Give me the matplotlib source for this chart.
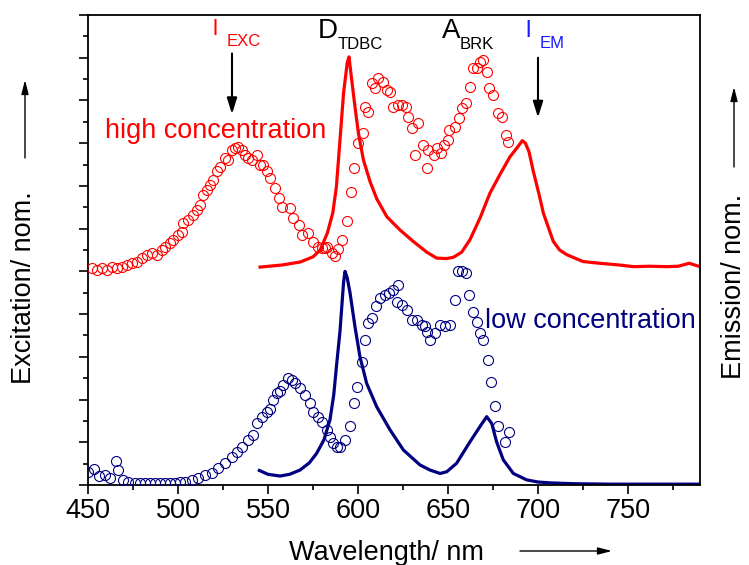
import matplotlib
matplotlib.use("Agg")
import matplotlib.pyplot as plt
from matplotlib.ticker import MultipleLocator, NullFormatter

plt.rcParams['font.family'] = ['Liberation Sans', 'DejaVu Sans']

# --- excitation, high concentration (open red circles) ---
red_exc_wl = [452.0, 454.8, 457.6, 460.4, 463.1, 465.9, 468.7, 471.5, 474.3, 477.0,
              479.8, 482.6, 485.4, 488.1, 490.9, 492.8, 495.6, 497.4, 500.2, 502.1,
              503.0, 505.7, 508.5, 510.4, 512.2, 514.1, 515.9, 517.8, 519.6, 521.5,
              523.3, 526.1, 528.0, 529.8, 531.7, 533.5, 535.4, 537.2, 539.1, 540.9,
              543.7, 545.6, 547.4, 549.3, 551.0, 554.0, 556.0, 558.0, 562.0, 564.0,
              567.0, 569.0, 572.0, 575.0, 578.0, 580.0, 581.7, 583.0, 585.4, 587.2,
              589.0, 591.0, 594.0, 596.0, 598.0, 600.0, 602.5, 604.0, 605.6, 608.0,
              609.5, 611.0, 614.0, 616.0, 618.0, 619.5, 622.0, 624.5, 626.5, 628.0,
              630.0, 631.7, 633.5, 636.3, 638.1, 639.0, 642.0, 644.0, 646.0, 647.5,
              650.0, 650.5, 654.0, 656.0, 658.0, 660.0, 662.0, 664.0, 666.0, 668.0,
              669.5, 671.5, 673.0, 675.0, 678.0, 680.0, 682.0, 683.5]
red_exc_val = [5.07, 5.04, 5.07, 5.03, 5.11, 5.07, 5.11, 5.15, 5.19, 5.23,
               5.31, 5.39, 5.43, 5.39, 5.50, 5.58, 5.66, 5.74, 5.85, 5.93,
               6.13, 6.21, 6.32, 6.44, 6.56, 6.79, 6.91, 7.03, 7.14, 7.34,
               7.45, 7.65, 7.61, 7.85, 7.89, 7.92, 7.85, 7.73, 7.65, 7.61,
               7.73, 7.49, 7.49, 7.34, 7.19, 6.96, 6.72, 6.51, 6.49, 6.25,
               6.09, 5.85, 5.90, 5.69, 5.57, 5.55, 5.55, 5.57, 5.43, 5.36,
               5.52, 5.74, 6.18, 6.86, 7.42, 8.00, 8.25, 8.85, 8.74, 9.41,
               9.30, 9.53, 9.44, 9.25, 9.20, 8.85, 8.90, 8.90, 8.85, 8.62,
               8.36, 7.73, 8.47, 7.96, 7.42, 7.85, 7.73, 7.89, 7.78, 7.96,
               8.08, 8.31, 8.38, 8.59, 8.83, 8.95, 9.32, 9.77, 9.77, 9.91,
               9.95, 9.67, 9.30, 9.13, 8.71, 8.62, 8.20, 8.03]

# --- emission, high concentration (red line) ---
red_em_wl = [545.6, 558.0, 568.0, 575.0, 579.0, 583.0, 586.0, 588.0, 590.0, 592.0,
             594.0, 595.0, 596.5, 598.3, 600.2, 603.0, 606.7, 610.4, 616.0, 623.3,
             630.7, 638.2, 643.7, 649.3, 653.0, 657.6, 662.2, 667.8, 673.3, 678.9,
             684.4, 688.5, 691.3, 693.0, 695.0, 697.4, 700.6, 703.0, 708.5, 712.0,
             716.0, 725.0, 734.0, 745.0, 753.0, 762.0, 771.5, 778.0, 784.0, 790.0]
red_em_val = [5.10, 5.15, 5.22, 5.34, 5.50, 5.90, 6.37, 6.98, 8.08, 9.18,
              9.88, 10.02, 9.48, 8.86, 8.24, 7.61, 7.10, 6.70, 6.28, 5.97,
              5.70, 5.45, 5.31, 5.30, 5.33, 5.45, 5.74, 6.25, 6.83, 7.27,
              7.68, 7.90, 8.06, 8.00, 7.80, 7.34, 6.80, 6.36, 5.70, 5.50,
              5.39, 5.23, 5.19, 5.15, 5.11, 5.12, 5.11, 5.12, 5.19, 5.11]

# --- excitation, low concentration (open navy circles) ---
blue_exc_wl = [450.2, 453.5, 456.1, 459.4, 462.2, 465.4, 466.8, 469.6, 472.4, 476.1,
               478.9, 481.7, 484.4, 487.2, 490.0, 492.8, 495.6, 498.3, 501.1, 503.9,
               507.6, 511.3, 515.0, 518.7, 522.4, 526.1, 529.8, 532.6, 535.4, 539.1,
               541.8, 543.7, 546.5, 549.3, 551.0, 553.0, 554.8, 556.7, 558.5, 561.3,
               563.2, 565.0, 567.8, 570.6, 573.3, 575.2, 578.0, 579.8, 582.6, 584.4,
               586.3, 588.2, 590.0, 592.8, 595.6, 598.0, 599.6, 602.0, 604.0, 605.7,
               607.6, 610.0, 612.2, 615.0, 617.4, 619.6, 621.5, 622.4, 624.3, 627.0,
               629.8, 632.6, 635.4, 637.2, 638.2, 640.0, 642.8, 645.6, 648.3, 651.1,
               653.9, 655.7, 657.6, 660.0, 661.9, 663.7, 665.9, 667.8, 669.6, 672.0,
               673.7, 675.9, 678.0, 681.7, 684.1]
blue_exc_val = [0.31, 0.37, 0.21, 0.23, 0.16, 0.57, 0.35, 0.12, 0.08, 0.04,
                0.04, 0.04, 0.04, 0.04, 0.04, 0.04, 0.05, 0.05, 0.06, 0.08,
                0.12, 0.16, 0.23, 0.27, 0.39, 0.51, 0.66, 0.78, 0.90, 1.05,
                1.17, 1.44, 1.60, 1.72, 1.78, 1.99, 2.15, 2.19, 2.34, 2.50,
                2.46, 2.38, 2.26, 2.11, 1.91, 1.72, 1.60, 1.48, 1.29, 1.13,
                0.98, 0.90, 0.90, 1.05, 1.37, 1.91, 2.30, 2.89, 3.40, 3.79,
                3.90, 4.18, 4.37, 4.45, 4.49, 4.57, 4.29, 4.68, 4.22, 4.10,
                3.86, 3.86, 3.75, 3.71, 3.59, 3.40, 3.55, 3.75, 3.71, 3.75,
                4.33, 5.00, 5.00, 4.96, 4.45, 4.06, 3.82, 3.55, 3.40, 2.93,
                2.42, 1.85, 1.37, 1.01, 1.25]

# --- emission, low concentration (navy line) ---
blue_em_wl = [545.2, 550.0, 556.7, 562.0, 567.8, 573.0, 577.0, 581.0, 584.4, 586.5,
              588.2, 590.0, 591.0, 592.0, 592.8, 594.0, 595.6, 598.3, 601.1, 604.8,
              610.4, 617.8, 625.2, 634.4, 640.0, 645.6, 649.3, 654.8, 662.2, 667.8,
              671.5, 674.3, 677.0, 680.7, 686.3, 693.7, 700.0, 706.7, 720.0, 740.0,
              760.0, 790.0]
blue_em_val = [0.34, 0.25, 0.21, 0.25, 0.35, 0.52, 0.74, 1.05, 1.52, 2.10,
               2.85, 3.60, 4.18, 4.75, 5.00, 4.85, 4.49, 3.71, 3.00, 2.38,
               1.83, 1.29, 0.82, 0.47, 0.35, 0.27, 0.31, 0.51, 1.01, 1.37,
               1.60, 1.44, 1.01, 0.59, 0.27, 0.12, 0.07, 0.05, 0.03, 0.02,
               0.02, 0.02]

RED = '#ff0000'
NAVY = '#000080'
FS = 19.5
SUB = 12

fig = plt.figure(figsize=(7.49, 5.65), dpi=100)
ax = fig.add_axes([88 / 749, 80 / 565, 612 / 749, 470 / 565])

ax.plot(red_em_wl, red_em_val, color=RED, lw=2.3, zorder=2)
ax.plot(blue_em_wl, blue_em_val, color=NAVY, lw=2.3, zorder=2)
ax.plot(red_exc_wl, red_exc_val, 'o', mfc='none', mec=RED, ms=7.2, mew=0.8, zorder=3)
ax.plot(blue_exc_wl, blue_exc_val, 'o', mfc='none', mec=NAVY, ms=7.2, mew=0.8, zorder=3)

ax.set_xlim(450, 790)
ax.set_ylim(0, 11.0)
ax.xaxis.set_major_locator(MultipleLocator(50))
ax.xaxis.set_minor_locator(MultipleLocator(25))
ax.yaxis.set_major_locator(MultipleLocator(1))
ax.yaxis.set_minor_locator(MultipleLocator(0.5))
ax.yaxis.set_major_formatter(NullFormatter())
ax.tick_params(which='both', direction='out', top=False, right=False, width=1.2)
ax.tick_params(which='major', length=6.5, labelsize=FS, pad=3)
ax.tick_params(which='minor', length=3.5)
for sp in ax.spines.values():
    sp.set_linewidth(1.3)

# peak / wavelength labels
ax.text(520.8, 10.54, 'l', color=RED, fontsize=16, ha='center')
ax.text(527.2, 10.28, 'EXC', color=RED, fontsize=SUB)
ax.text(577.8, 10.47, 'D', color='black', fontsize=20)
ax.text(588.9, 10.20, 'TDBC', color='black', fontsize=SUB)
ax.text(646.7, 10.47, 'A', color='black', fontsize=20)
ax.text(656.7, 10.20, 'BRK', color='black', fontsize=SUB)
ax.text(694.5, 10.49, 'l', color='#1a1aff', fontsize=17, ha='center')
ax.text(701.0, 10.23, 'EM', color='#1a1aff', fontsize=SUB)

arrow_kw = dict(arrowstyle='-|>,head_length=0.8,head_width=0.25', color='black',
                lw=1.5, mutation_scale=12, shrinkA=0, shrinkB=0)
ax.annotate('', xy=(530, 8.68), xytext=(530, 10.1), arrowprops=arrow_kw)
ax.annotate('', xy=(700, 8.6), xytext=(700, 10.0), arrowprops=arrow_kw)

ax.text(459.4, 8.13, 'high concentration', color=RED, fontsize=FS)
ax.text(670.6, 3.68, 'low concentration', color=NAVY, fontsize=FS)

# axis titles with direction arrows (figure pixels)
fig.text(386 / 749, 5 / 565, 'Wavelength/ nm', fontsize=FS, ha='center', va='baseline')
fig.text(24 / 749, 277 / 565, 'Excitation/ nom.', fontsize=FS, rotation=90,
         ha='center', va='center')
fig.text(734 / 749, 279 / 565, 'Emission/ nom.', fontsize=FS, rotation=90,
         ha='center', va='center')

side_kw = dict(arrowstyle='-|>,head_length=0.7,head_width=0.18', color='black',
               lw=1.0, mutation_scale=12, shrinkA=0, shrinkB=0)
ax.annotate('', xy=(612, 14), xytext=(520, 14), xycoords='figure pixels',
            textcoords='figure pixels', arrowprops=side_kw)
ax.annotate('', xy=(25, 485), xytext=(25, 407), xycoords='figure pixels',
            textcoords='figure pixels', arrowprops=side_kw)
ax.annotate('', xy=(734, 478), xytext=(734, 398), xycoords='figure pixels',
            textcoords='figure pixels', arrowprops=side_kw)

fig.savefig('out.png', dpi=100)
